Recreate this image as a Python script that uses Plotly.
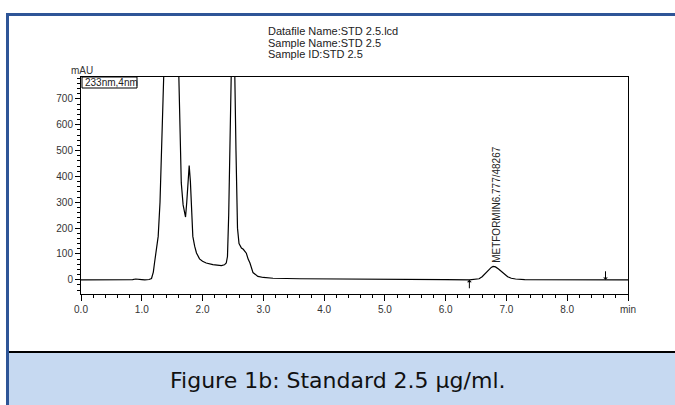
import plotly.graph_objects as go

# Chromatogram data (time in min, absorbance in mAU)
time_min = [0.0, 0.5, 0.85, 0.9, 0.95, 1.0, 1.05, 1.12, 1.16, 1.19, 1.21, 1.24, 1.27, 1.30, 1.32, 1.35,
            1.40, 1.45, 1.50, 1.55, 1.60, 1.61, 1.63, 1.65, 1.68, 1.71, 1.72, 1.74, 1.76, 1.78, 1.80,
            1.82, 1.84, 1.87, 1.90, 1.95, 2.00, 2.06, 2.17, 2.31, 2.36, 2.39, 2.41, 2.43, 2.46, 2.48,
            2.50, 2.53, 2.55, 2.575, 2.60, 2.64, 2.67, 2.72, 2.75, 2.78, 2.83, 2.91, 3.00, 3.16, 3.60,
            4.00, 5.00, 6.00, 6.39, 6.50, 6.55, 6.60, 6.65, 6.70, 6.75, 6.78, 6.82, 6.87, 6.92, 6.97,
            7.02, 7.08, 7.15, 7.30, 7.60, 8.00, 9.00]
absorb_mau = [0, 0, 0.5, 3, 3, 1, 0, 1, 5, 30, 66, 110, 168, 300, 503, 700,
              1100, 1500, 1600, 1400, 900, 800, 560, 375, 290, 248, 243, 300, 400, 442, 380,
              260, 168, 130, 104, 81, 72, 65, 59, 55, 58, 65, 90, 250, 700, 900,
              1000, 800, 500, 200, 140, 123, 118, 103, 80, 65, 28, 13, 9, 6, 4,
              3, 1, 0.5, 0, 1, 4, 12, 24, 38, 48, 52, 50, 42, 32, 21,
              12, 6, 3, 1, 0.5, 0, 0]

x_tick_vals = [0, 1, 2, 3, 4, 5, 6, 7, 8, 9]
x_tick_text = ["0.0", "1.0", "2.0", "3.0", "4.0", "5.0", "6.0", "7.0", "8.0", "min"]
y_tick_vals = [0, 100, 200, 300, 400, 500, 600, 700]

peak_label = "METFORMIN6.777/48267"
peak_time = 6.777
peak_height = 52
integ_start = 6.39
integ_end = 8.63

header_lines = ["Datafile Name:STD 2.5.lcd", "Sample Name:STD 2.5", "Sample ID:STD 2.5"]
caption = "Figure 1b: Standard 2.5 µg/ml."

W, H = 675, 405
L, R, T, B = 81, 628, 77, 294


def px(xp):
    return (xp - L) / (R - L)


def py(yp):
    return (B - yp) / (B - T)


fig = go.Figure()
fig.add_trace(go.Scatter(x=time_min, y=absorb_mau, mode="lines",
                         line=dict(color="black", width=1.2), hoverinfo="skip", showlegend=False))

axis_font = dict(family="Liberation Sans, Arial", size=10, color="#333333")
fig.update_xaxes(range=[0, 9], tickvals=x_tick_vals, ticktext=x_tick_text, ticks="outside",
                 ticklen=6, tickwidth=1, tickcolor="black", showgrid=False, zeroline=False,
                 showline=True, linecolor="black", linewidth=1, mirror=True, tickfont=axis_font,
                 minor=dict(dtick=0.2, ticks="outside", ticklen=3, tickcolor="black", showgrid=False))
fig.update_yaxes(range=[-55, 785], tickvals=y_tick_vals, ticks="outside", ticklen=5, tickwidth=1,
                 tickcolor="black", showgrid=False, zeroline=False, showline=True, linecolor="black",
                 linewidth=1, mirror=True, tickfont=axis_font,
                 minor=dict(dtick=20, tick0=0, ticks="outside", ticklen=3, tickcolor="black", showgrid=False))

shapes = []
# caption background
shapes.append(dict(type="rect", xref="paper", yref="paper", x0=px(8), x1=px(676), y0=py(352), y1=py(406),
                   fillcolor="#c6d9f1", line=dict(width=0), layer="below"))
shapes.append(dict(type="line", xref="paper", yref="paper", x0=px(8), x1=px(676), y0=py(352), y1=py(352),
                   line=dict(color="black", width=2)))
# blue frame
shapes.append(dict(type="line", xref="paper", yref="paper", x0=px(7.5), x1=px(7.5), y0=py(13), y1=py(406),
                   line=dict(color="#2e5597", width=3)))
shapes.append(dict(type="line", xref="paper", yref="paper", x0=px(6), x1=px(676), y0=py(14.5), y1=py(14.5),
                   line=dict(color="#2e5597", width=3)))
# wavelength box
shapes.append(dict(type="rect", xref="paper", yref="paper", x0=px(82), x1=px(137), y0=py(88), y1=py(77),
                   fillcolor="white", line=dict(color="black", width=1)))
fig.update_layout(shapes=shapes)

ann = []
for i, t in enumerate(header_lines):
    ann.append(dict(text=t, xref="paper", yref="paper", x=px(266), y=py(31 + 11.5 * i), xanchor="left",
                    yanchor="middle", showarrow=False,
                    font=dict(family="Liberation Sans, Arial", size=11, color="#222222")))
ann.append(dict(text="mAU", xref="paper", yref="paper", x=px(82), y=py(71), xanchor="center",
                yanchor="middle", showarrow=False, font=dict(family="Liberation Sans, Arial", size=10, color="#333333")))
ann.append(dict(text="233nm,4nm", xref="paper", yref="paper", x=px(83), y=py(82.5), xanchor="left",
                yanchor="middle", showarrow=False, font=dict(family="Liberation Sans, Arial", size=10, color="#222222")))
ann.append(dict(text=peak_label, x=peak_time + 0.06, y=peak_height + 6, xref="x", yref="y", textangle=-90,
                xanchor="center", yanchor="bottom", showarrow=False,
                font=dict(family="Liberation Sans, Arial", size=10, color="#222222")))
ann.append(dict(x=integ_start, y=0, xref="x", yref="y", ax=0, ay=10, showarrow=True, arrowhead=1,
                arrowsize=0.8, arrowwidth=1, arrowcolor="black", text=""))
ann.append(dict(x=integ_end, y=0, xref="x", yref="y", ax=0, ay=-10, showarrow=True, arrowhead=1,
                arrowsize=0.8, arrowwidth=1, arrowcolor="black", text=""))
ann.append(dict(text=caption, xref="paper", yref="paper", x=px(338), y=py(380), xanchor="center",
                yanchor="middle", showarrow=False, font=dict(family="DejaVu Sans", size=22, color="#111111")))
fig.update_layout(annotations=ann)

fig.update_layout(width=W, height=H, margin=dict(l=L, r=W - R, t=T, b=H - B),
                  paper_bgcolor="white", plot_bgcolor="white", showlegend=False)

fig.write_html("out.html", config={"displayModeBar": False},
               post_script="document.body.style.margin='0px';document.body.style.overflow='hidden';")
